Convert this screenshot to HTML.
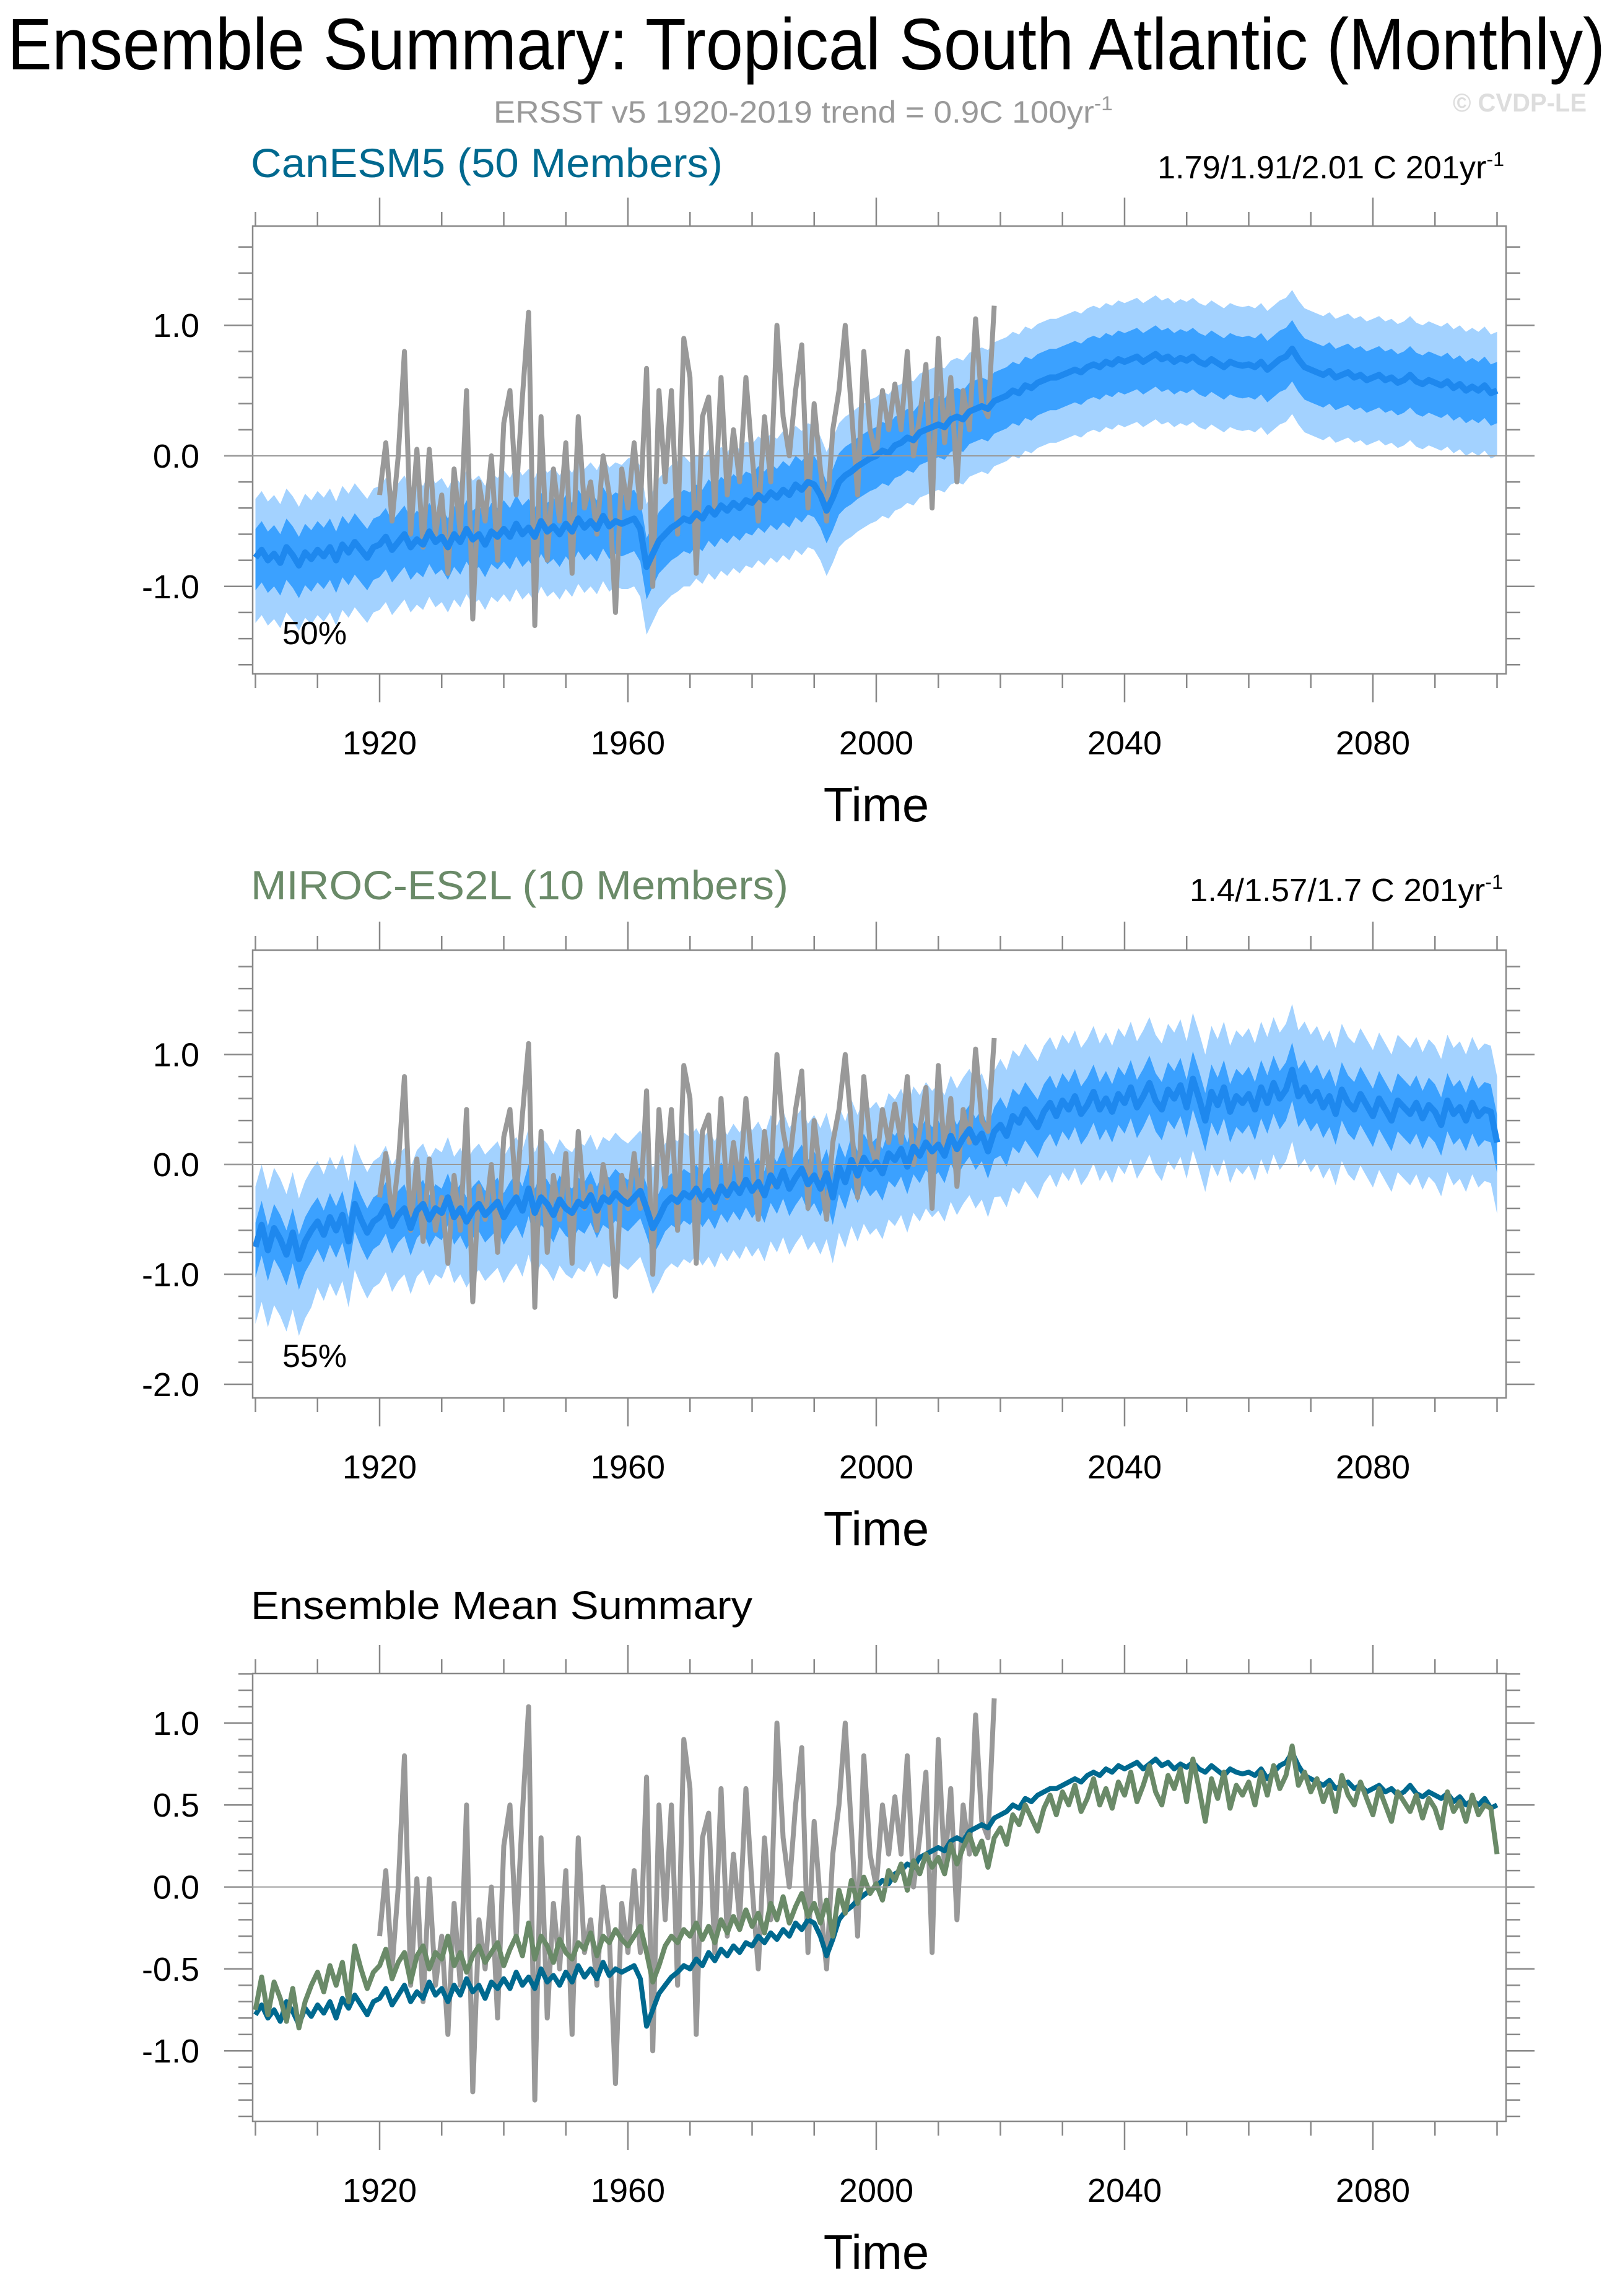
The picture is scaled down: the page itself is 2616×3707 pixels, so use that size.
<!DOCTYPE html>
<html><head><meta charset="utf-8"><style>
html,body{margin:0;padding:0;background:#fff;}
svg{display:block;font-family:"Liberation Sans",sans-serif;}
</style></head><body>
<svg id="chart" width="2616" height="3707" viewBox="0 0 2616 3707" xmlns="http://www.w3.org/2000/svg">
<rect width="2616" height="3707" fill="#fff"/>
<text x="12" y="112" font-size="118" textLength="2580" lengthAdjust="spacingAndGlyphs" fill="#000">Ensemble Summary: Tropical South Atlantic (Monthly)</text>
<text x="797" y="198" font-size="50" fill="#999" textLength="1000" lengthAdjust="spacingAndGlyphs">ERSST v5 1920-2019 trend = 0.9C 100yr<tspan dy="-20" font-size="32">-1</tspan></text>
<text x="2346" y="180" font-size="42" font-weight="bold" fill="#ddd" textLength="216" lengthAdjust="spacingAndGlyphs">© CVDP-LE</text>
<text x="405" y="286" font-size="66" fill="#00698f" textLength="762" lengthAdjust="spacingAndGlyphs">CanESM5 (50 Members)</text>
<text x="1869" y="288" font-size="52" fill="#000" textLength="560" lengthAdjust="spacingAndGlyphs">1.79/1.91/2.01 C 201yr<tspan dy="-20" font-size="32">-1</tspan></text>
<text x="405" y="1452" font-size="66" fill="#6a8a68" textLength="868" lengthAdjust="spacingAndGlyphs">MIROC-ES2L (10 Members)</text>
<text x="1921" y="1455" font-size="52" fill="#000" textLength="506" lengthAdjust="spacingAndGlyphs">1.4/1.57/1.7 C 201yr<tspan dy="-20" font-size="32">-1</tspan></text>
<text x="405" y="2614" font-size="64" fill="#000" textLength="810" lengthAdjust="spacingAndGlyphs">Ensemble Mean Summary</text>
<g id="plots"></g>
</svg>
<script>
// ---- data (annual values) ----
const years = []; for (let y = 1900; y <= 2100; y++) years.push(y);
const obsYears = []; for (let y = 1920; y <= 2019; y++) obsYears.push(y);
const obs = [-0.3,0.1,-0.5,0.0,0.8,-0.6,0.05,-0.7,0.05,-0.6,
-0.3,-0.9,-0.1,-0.6,0.5,-1.25,-0.2,-0.5,0.0,-0.8,
0.25,0.5,-0.3,0.45,1.1,-1.3,0.3,-0.8,-0.1,-0.5,
0.1,-0.9,0.3,-0.4,-0.2,-0.6,0.0,-0.3,-1.2,-0.1,
-0.4,0.1,-0.4,0.67,-1.0,0.5,-0.2,0.5,-0.6,0.9,
0.6,-0.9,0.3,0.45,-0.4,0.6,-0.3,0.2,-0.2,0.6,
0.0,-0.5,0.3,-0.2,1.0,0.3,0.0,0.5,0.85,-0.4,
0.4,-0.1,-0.5,0.2,0.5,1.0,0.35,-0.3,0.8,0.2,
0.0,0.5,0.2,0.55,0.2,0.8,0.0,0.3,0.7,-0.4,
0.9,0.1,0.6,-0.2,0.5,0.2,1.05,0.4,0.3,1.15];
const canMean = [-0.78,-0.72,-0.80,-0.75,-0.82,-0.70,-0.76,-0.84,-0.74,-0.79,
-0.72,-0.77,-0.70,-0.80,-0.68,-0.74,-0.66,-0.72,-0.78,-0.70,
-0.68,-0.62,-0.72,-0.66,-0.60,-0.70,-0.64,-0.68,-0.58,-0.66,
-0.62,-0.70,-0.60,-0.66,-0.56,-0.64,-0.60,-0.68,-0.58,-0.62,
-0.56,-0.62,-0.52,-0.60,-0.55,-0.62,-0.50,-0.58,-0.54,-0.60,
-0.52,-0.58,-0.48,-0.55,-0.50,-0.56,-0.46,-0.54,-0.50,-0.52,
-0.50,-0.48,-0.56,-0.85,-0.75,-0.65,-0.60,-0.55,-0.52,-0.48,
-0.50,-0.44,-0.48,-0.40,-0.45,-0.38,-0.42,-0.36,-0.40,-0.34,
-0.36,-0.30,-0.34,-0.28,-0.32,-0.26,-0.30,-0.22,-0.26,-0.20,
-0.22,-0.30,-0.42,-0.32,-0.20,-0.15,-0.12,-0.08,-0.05,-0.02,
0.00,0.04,0.02,0.08,0.10,0.14,0.12,0.18,0.20,0.22,
0.24,0.22,0.28,0.30,0.28,0.34,0.36,0.38,0.36,0.42,
0.44,0.46,0.50,0.48,0.54,0.52,0.56,0.58,0.60,0.60,
0.62,0.64,0.66,0.64,0.68,0.70,0.68,0.72,0.70,0.74,
0.72,0.74,0.76,0.72,0.75,0.78,0.74,0.76,0.72,0.75,
0.73,0.76,0.72,0.70,0.74,0.71,0.68,0.72,0.70,0.69,
0.70,0.68,0.72,0.66,0.70,0.74,0.76,0.82,0.74,0.68,
0.66,0.64,0.62,0.65,0.60,0.62,0.64,0.60,0.62,0.58,
0.60,0.62,0.58,0.60,0.56,0.58,0.62,0.57,0.55,0.58,
0.56,0.54,0.57,0.52,0.55,0.50,0.53,0.50,0.54,0.48,
0.50];
const mirocMean = [-0.75,-0.55,-0.78,-0.58,-0.68,-0.82,-0.62,-0.86,-0.70,-0.60,
-0.52,-0.64,-0.48,-0.60,-0.46,-0.70,-0.36,-0.50,-0.62,-0.52,
-0.48,-0.38,-0.56,-0.46,-0.40,-0.58,-0.42,-0.36,-0.50,-0.40,
-0.44,-0.30,-0.48,-0.40,-0.52,-0.42,-0.36,-0.46,-0.40,-0.34,
-0.48,-0.38,-0.30,-0.42,-0.22,-0.44,-0.30,-0.36,-0.46,-0.32,
-0.40,-0.44,-0.34,-0.38,-0.28,-0.42,-0.30,-0.34,-0.26,-0.32,
-0.36,-0.30,-0.24,-0.40,-0.58,-0.48,-0.36,-0.30,-0.34,-0.26,
-0.30,-0.22,-0.32,-0.24,-0.34,-0.20,-0.28,-0.18,-0.26,-0.14,
-0.24,-0.16,-0.28,-0.10,-0.20,-0.06,-0.22,-0.12,-0.04,-0.18,
-0.10,-0.22,-0.08,-0.30,-0.02,-0.16,0.04,-0.10,0.06,-0.04,
0.02,-0.08,0.10,0.04,0.14,-0.02,0.16,0.08,0.20,0.12,
0.18,0.08,0.26,0.14,0.24,0.32,0.20,0.28,0.12,0.30,
0.36,0.26,0.44,0.38,0.50,0.42,0.34,0.48,0.56,0.44,
0.58,0.50,0.62,0.46,0.54,0.66,0.50,0.60,0.48,0.64,
0.56,0.70,0.52,0.62,0.74,0.58,0.50,0.68,0.60,0.72,
0.52,0.78,0.60,0.40,0.66,0.54,0.70,0.48,0.62,0.56,
0.64,0.50,0.70,0.56,0.74,0.60,0.68,0.86,0.62,0.70,
0.58,0.66,0.52,0.62,0.46,0.68,0.56,0.50,0.64,0.54,
0.44,0.60,0.50,0.40,0.58,0.52,0.46,0.56,0.42,0.54,
0.48,0.36,0.58,0.46,0.52,0.40,0.56,0.44,0.50,0.48,
0.20];
// spread offsets per decade (1900s..2100)
const canOuterUp = [0.45,0.45,0.45,0.45,0.45,0.45,0.48,0.45,0.45,0.45,0.45,0.45,0.45,0.45,0.45,0.45,0.45,0.45,0.45,0.45,0.45];
const canOuterDn = [0.50,0.50,0.50,0.50,0.50,0.50,0.52,0.50,0.50,0.50,0.50,0.50,0.50,0.50,0.50,0.50,0.50,0.50,0.50,0.50,0.50];
const canInnerUp = [0.22,0.22,0.22,0.22,0.22,0.22,0.22,0.22,0.22,0.22,0.22,0.22,0.22,0.22,0.22,0.22,0.22,0.22,0.22,0.22,0.22];
const canInnerDn = [0.25,0.25,0.25,0.25,0.25,0.25,0.25,0.25,0.25,0.25,0.25,0.25,0.25,0.25,0.25,0.25,0.25,0.25,0.25,0.25,0.25];
const mirOuterUp = [0.55,0.55,0.55,0.55,0.55,0.55,0.55,0.55,0.55,0.55,0.55,0.55,0.60,0.60,0.60,0.60,0.60,0.60,0.60,0.60,0.60];
const mirOuterDn = [0.70,0.60,0.60,0.60,0.60,0.60,0.60,0.60,0.60,0.60,0.60,0.60,0.65,0.65,0.65,0.65,0.65,0.65,0.65,0.65,0.65];
const mirInnerUp = [0.22,0.22,0.22,0.22,0.22,0.22,0.22,0.22,0.22,0.22,0.22,0.22,0.25,0.25,0.25,0.25,0.25,0.25,0.25,0.25,0.25];
const mirInnerDn = [0.28,0.25,0.25,0.25,0.25,0.25,0.25,0.25,0.25,0.25,0.25,0.25,0.28,0.28,0.28,0.28,0.28,0.28,0.28,0.28,0.28];
const xTickLabels = ["1920","1960","2000","2040","2080"];
const pctLabels = ["50%","55%"];
const panel1Ticks = ["-1.0","0.0","1.0"];
const panel2Ticks = ["-2.0","-1.0","0.0","1.0"];
const panel3Ticks = ["-1.0","-0.5","0.0","0.5","1.0"];

// ---- drawing ----
const NS = "http://www.w3.org/2000/svg";
const root = document.getElementById("plots");
function mk(tag, attrs, parent) {
  const e = document.createElementNS(NS, tag);
  for (const k in attrs) e.setAttribute(k, attrs[k]);
  (parent || root).appendChild(e);
  return e;
}
const L = 408, R = 2432, XMIN = 1899.55, XMAX = 2101.45;
const xs = v => L + (v - XMIN) / (XMAX - XMIN) * (R - L);

function panel(id, top, bot, ymin, ymax, major, minor, tickLabels) {
  const ys = v => bot - (v - ymin) / (ymax - ymin) * (bot - top);
  const g = mk("g", {});
  
  
  const clip = mk("clipPath", {id: id + "-clip"}, g);
  mk("rect", {x: L, y: top, width: R - L, height: bot - top}, clip);
  const data = mk("g", {"clip-path": "url(#" + id + "-clip)"}, g);
  
  
  const ax = mk("g", {stroke: "#888", "stroke-width": 2.5, fill: "none"}, g);
  
  
  const box = mk("rect", {x: L, y: top, width: R - L, height: bot - top}, ax);
  
  
  for (let yr = 1900; yr <= 2100; yr += 10) {
    const x = xs(yr), len = ((yr - 1920) % 40 === 0) ? 46 : 23;
    mk("line", {x1: x, x2: x, y1: top, y2: top - len}, ax);
    mk("line", {x1: x, x2: x, y1: bot, y2: bot + len}, ax);
  }
  const nMin = Math.ceil(ymin / minor - 1e-6), nMax = Math.floor(ymax / minor + 1e-6);
  for (let i = nMin; i <= nMax; i++) {
    const v = i * minor, y = ys(v);
    const isMaj = Math.abs(v / major - Math.round(v / major)) < 1e-6;
    const len = isMaj ? 46 : 23;
    mk("line", {x1: L, x2: L - len, y1: y, y2: y}, ax);
    mk("line", {x1: R, x2: R + len, y1: y, y2: y}, ax);
  }
  tickLabels.forEach(s => {
    const t = mk("text", {x: 322, y: ys(parseFloat(s)) + 19, "font-size": 54, "text-anchor": "end", fill: "#000"}, g);
    t.textContent = s;
    
    
  });
  xTickLabels.forEach(s => {
    const t = mk("text", {x: xs(parseFloat(s)), y: bot + 130, "font-size": 54, "text-anchor": "middle", fill: "#000"}, g);
    t.textContent = s;
    
    
  });
  const tt = mk("text", {x: xs(2000), y: bot + 238, "font-size": 78, "text-anchor": "middle", fill: "#000"}, g);
  tt.textContent = "Time";
  
  
  return {ys, data, g};
}
function linePath(xv, yv, ys) {
  return xv.map((x, i) => (i ? "L" : "M") + xs(x).toFixed(1) + "," + ys(yv[i]).toFixed(1)).join("");
}
function bandPath(mean, up, dn, ys) {
  let d = "";
  years.forEach((yr, i) => { const k = Math.floor((yr - 1900) / 10);
    d += (i ? "L" : "M") + xs(yr).toFixed(1) + "," + ys(mean[i] + up[k]).toFixed(1); });
  for (let i = years.length - 1; i >= 0; i--) { const k = Math.floor((years[i] - 1900) / 10);
    d += "L" + xs(years[i]).toFixed(1) + "," + ys(mean[i] - dn[k]).toFixed(1); }
  return d + "Z";
}
function zero(p) {
  const z = mk("line", {x1: L - 46, x2: R + 46, y1: p.ys(0), y2: p.ys(0), stroke: "#999", "stroke-width": 2}, p.g);
  
  
}
function ensemblePanel(p, mean, oU, oD, iU, iD, label, ly, nm) {
  const b1 = mk("path", {d: bandPath(mean, oU, oD, p.ys), fill: "#a3d2ff"}, p.data);
  
  
  const b2 = mk("path", {d: bandPath(mean, iU, iD, p.ys), fill: "#3ba1ff"}, p.data);
  
  
  zero(p);
  const o = mk("path", {d: linePath(obsYears, obs, p.ys), fill: "none", stroke: "#999", "stroke-width": 8, "stroke-linejoin": "round"}, p.data);
  
  
  const m = mk("path", {d: linePath(years, mean, p.ys), fill: "none", stroke: "#1e88ee", "stroke-width": 10, "stroke-linejoin": "round"}, p.data);
  
  
  const t = mk("text", {x: 456, y: ly, "font-size": 52, fill: "#000"}, p.g);
  t.textContent = label;
  
  
}
const p1 = panel("canesm5", 365, 1088, -1.67, 1.76, 1.0, 0.2, panel1Ticks);
ensemblePanel(p1, canMean, canOuterUp, canOuterDn, canInnerUp, canInnerDn, pctLabels[0], 1040, "canesm5");
const p2 = panel("miroc", 1534, 2257, -2.124, 1.95, 1.0, 0.2, panel2Ticks);
ensemblePanel(p2, mirocMean, mirOuterUp, mirOuterDn, mirInnerUp, mirInnerDn, pctLabels[1], 2207, "miroc");
const p3 = panel("mean-summary", 2702, 3425, -1.43, 1.302, 0.5, 0.1, panel3Ticks);
zero(p3);
const l1 = mk("path", {d: linePath(obsYears, obs, p3.ys), fill: "none", stroke: "#999", "stroke-width": 8, "stroke-linejoin": "round"}, p3.data);


const l2 = mk("path", {d: linePath(years, canMean, p3.ys), fill: "none", stroke: "#00698f", "stroke-width": 8, "stroke-linejoin": "round"}, p3.data);


const l3 = mk("path", {d: linePath(years, mirocMean, p3.ys), fill: "none", stroke: "#6a8a68", "stroke-width": 8, "stroke-linejoin": "round"}, p3.data);


</script>
</body></html>
